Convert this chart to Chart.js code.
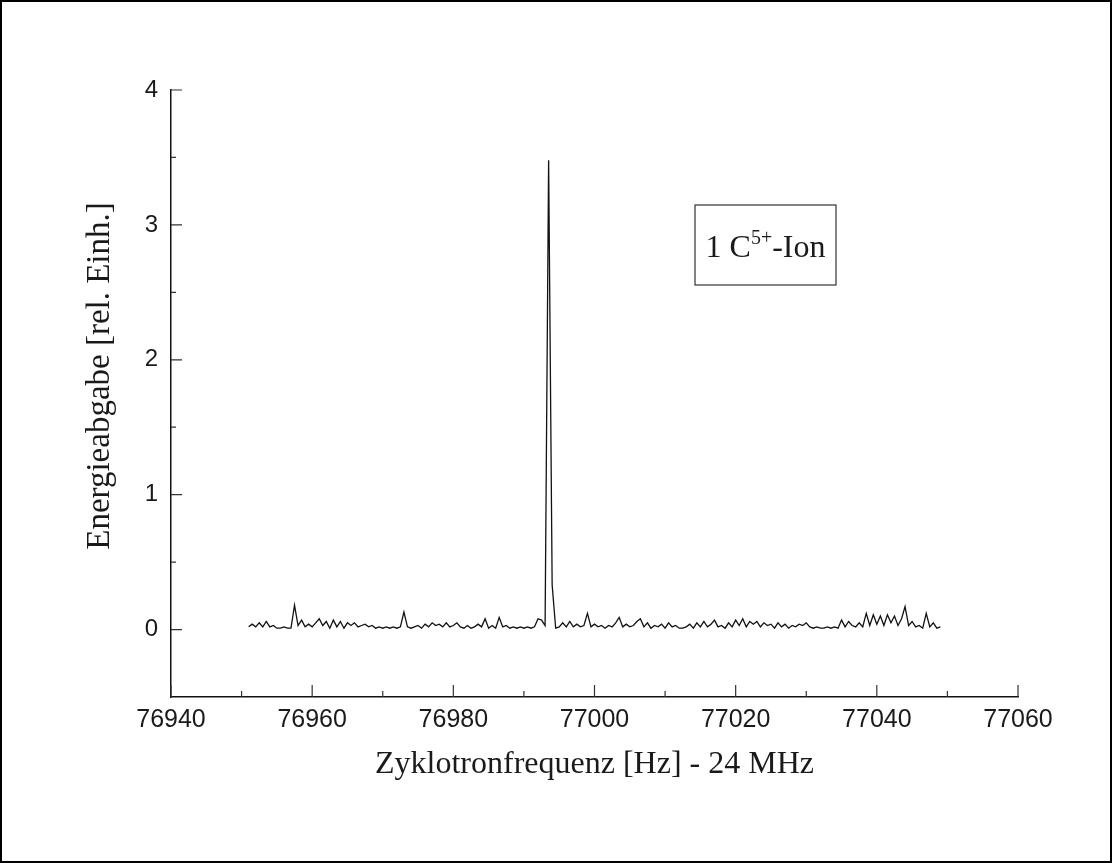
<!DOCTYPE html>
<html>
<head>
<meta charset="utf-8">
<script src="https://cdn.jsdelivr.net/npm/chart.js@4.4.1/dist/chart.umd.min.js"></script>
<style>
    html, body { margin: 0; padding: 0; background: #fff; }
    #frame { width: 1112px; height: 863px; box-sizing: border-box; border: 2px solid #000; position: relative; }
</style>
</head>
<body>
<div id="frame"><canvas id="spectrumChart"></canvas></div>
<script>
// Frequency grid (Hz above 24 MHz): first sample and sample spacing
const freqStart = 76951;
const freqStep = 0.5;

// Energy output [rel. units], one value per sample
const energy = [
    0.02, 0.04, 0.02, 0.05, 0.02, 0.06, 0.02, 0.03, 0.01, 0.01,
    0.02, 0.01, 0.01, 0.18, 0.03, 0.07, 0.02, 0.04, 0.02, 0.05,
    0.08, 0.03, 0.06, 0.01, 0.07, 0.02, 0.06, 0.01, 0.05, 0.03,
    0.05, 0.02, 0.03, 0.04, 0.02, 0.03, 0.01, 0.02, 0.01, 0.02,
    0.01, 0.02, 0.01, 0.02, 0.13, 0.02, 0.01, 0.02, 0.03, 0.01,
    0.04, 0.02, 0.05, 0.03, 0.04, 0.02, 0.05, 0.02, 0.03, 0.05,
    0.02, 0.01, 0.03, 0.01, 0.02, 0.04, 0.02, 0.08, 0.01, 0.03,
    0.01, 0.09, 0.02, 0.03, 0.01, 0.02, 0.01, 0.02, 0.01, 0.02,
    0.01, 0.02, 0.08, 0.07, 0.03, 3.48, 0.33, 0.01, 0.02, 0.05,
    0.02, 0.06, 0.02, 0.04, 0.02, 0.03, 0.12, 0.02, 0.04, 0.02,
    0.03, 0.01, 0.03, 0.02, 0.05, 0.09, 0.02, 0.04, 0.02, 0.03,
    0.06, 0.08, 0.02, 0.05, 0.01, 0.03, 0.02, 0.04, 0.01, 0.05,
    0.02, 0.03, 0.01, 0.01, 0.02, 0.04, 0.01, 0.05, 0.02, 0.06,
    0.02, 0.04, 0.07, 0.02, 0.03, 0.01, 0.05, 0.02, 0.07, 0.03,
    0.08, 0.02, 0.06, 0.04, 0.06, 0.02, 0.05, 0.03, 0.04, 0.01,
    0.05, 0.02, 0.04, 0.01, 0.03, 0.02, 0.04, 0.03, 0.05, 0.02,
    0.01, 0.02, 0.01, 0.01, 0.02, 0.01, 0.02, 0.01, 0.07, 0.02,
    0.06, 0.03, 0.02, 0.05, 0.02, 0.12, 0.03, 0.11, 0.04, 0.10,
    0.03, 0.11, 0.05, 0.10, 0.03, 0.08, 0.17, 0.03, 0.06, 0.02,
    0.03, 0.01, 0.12, 0.02, 0.05, 0.01, 0.02
];

// Axis ticks
const xMajorTicks = [76940, 76960, 76980, 77000, 77020, 77040, 77060];
const xMinorTicks = [76950, 76970, 76990, 77010, 77030, 77050];
const yMajorTicks = [0, 1, 2, 3, 4];
const yMinorTicks = [0.5, 1.5, 2.5, 3.5];

const points = energy.map((v, i) => ({ x: freqStart + i * freqStep, y: v }));

const textColor = '#1a1a1a';
const serif = '"Liberation Serif", "Times New Roman", serif';
const sans = '"Liberation Sans", Arial, sans-serif';

// inward tick marks like the original plot
const inwardTicks = {
    id: 'inwardTicks',
    afterDraw(chart) {
        const ctx = chart.ctx;
        const xs = chart.scales.x, ys = chart.scales.y;
        const area = chart.chartArea;
        ctx.save();
        ctx.strokeStyle = '#333';
        ctx.lineWidth = 1.2;
        ctx.beginPath();
        xMajorTicks.forEach(v => { const px = xs.getPixelForValue(v); ctx.moveTo(px, area.bottom); ctx.lineTo(px, area.bottom - 12); });
        xMinorTicks.forEach(v => { const px = xs.getPixelForValue(v); ctx.moveTo(px, area.bottom); ctx.lineTo(px, area.bottom - 6); });
        yMajorTicks.forEach(v => { const py = ys.getPixelForValue(v); ctx.moveTo(area.left, py); ctx.lineTo(area.left + 11, py); });
        yMinorTicks.forEach(v => { const py = ys.getPixelForValue(v); ctx.moveTo(area.left, py); ctx.lineTo(area.left + 5, py); });
        ctx.stroke();
        ctx.restore();
    }
};

// y axis title sits a bit above the middle of the axis in the original
const yTitle = {
    id: 'yTitle',
    afterDraw(chart) {
        const ctx = chart.ctx;
        ctx.save();
        ctx.translate(98, 374);
        ctx.rotate(-Math.PI / 2);
        ctx.font = '33px ' + serif;
        ctx.fillStyle = textColor;
        ctx.textAlign = 'center';
        ctx.textBaseline = 'middle';
        ctx.fillText('Energieabgabe [rel. Einh.]', 0, 0);
        ctx.restore();
    }
};

// boxed label "1 C5+-Ion"
const ionLabel = {
    id: 'ionLabel',
    afterDraw(chart) {
        const ctx = chart.ctx;
        const bx = 693, by = 203, bw = 141, bh = 80;
        ctx.save();
        ctx.strokeStyle = '#333';
        ctx.lineWidth = 1.2;
        ctx.strokeRect(bx, by, bw, bh);
        const big = '32px ' + serif;
        const small = '20px ' + serif;
        ctx.fillStyle = textColor;
        ctx.textBaseline = 'alphabetic';
        ctx.font = big;
        const w1 = ctx.measureText('1 C').width;
        const w3 = ctx.measureText('-Ion').width;
        ctx.font = small;
        const w2 = ctx.measureText('5+').width;
        let x = bx + (bw - (w1 + w2 + w3)) / 2;
        const base = by + bh / 2 + 12;
        ctx.font = big;
        ctx.fillText('1 C', x, base);
        x += w1;
        ctx.font = small;
        ctx.fillText('5+', x, base - 13);
        x += w2;
        ctx.font = big;
        ctx.fillText('-Ion', x, base);
        ctx.restore();
    }
};

var ctx = document.getElementById('spectrumChart').getContext('2d');
new Chart(ctx, {
    type: 'line',
    data: {
        datasets: [{
            label: 'Energieabgabe',
            data: points,
            borderColor: '#111',
            borderWidth: 1.3,
            pointRadius: 0,
            fill: false,
            tension: 0
        }]
    },
    options: {
        responsive: true,
        maintainAspectRatio: false,
        animation: false,
        layout: { padding: { left: 0, right: 92, top: 88, bottom: 0 } },
        plugins: { legend: { display: false }, tooltip: { enabled: false } },
        scales: {
            x: {
                type: 'linear',
                min: 76940,
                max: 77060,
                afterBuildTicks: s => { s.ticks = xMajorTicks.map(v => ({ value: v })); },
                afterFit: s => { s.height = 164; },
                grid: { display: false, drawTicks: false },
                border: { display: true, color: '#111', width: 1.5 },
                ticks: {
                    padding: 8,
                    color: textColor,
                    font: { family: sans, size: 25 },
                    callback: v => String(v)
                },
                title: {
                    display: true,
                    text: 'Zyklotronfrequenz [Hz] - 24 MHz',
                    color: textColor,
                    padding: 77,
                    font: { family: serif, size: 32 }
                }
            },
            y: {
                min: -0.5,
                max: 4,
                afterBuildTicks: s => { s.ticks = yMajorTicks.map(v => ({ value: v })); },
                afterFit: s => { s.width = 169; },
                grid: { display: false, drawTicks: false },
                border: { display: true, color: '#111', width: 1.5 },
                ticks: {
                    padding: 13,
                    color: textColor,
                    font: { family: sans, size: 24 },
                    callback: v => String(v)
                },
                title: { display: false }
            }
        }
    },
    plugins: [inwardTicks, yTitle, ionLabel]
});
</script>
</body>
</html>
